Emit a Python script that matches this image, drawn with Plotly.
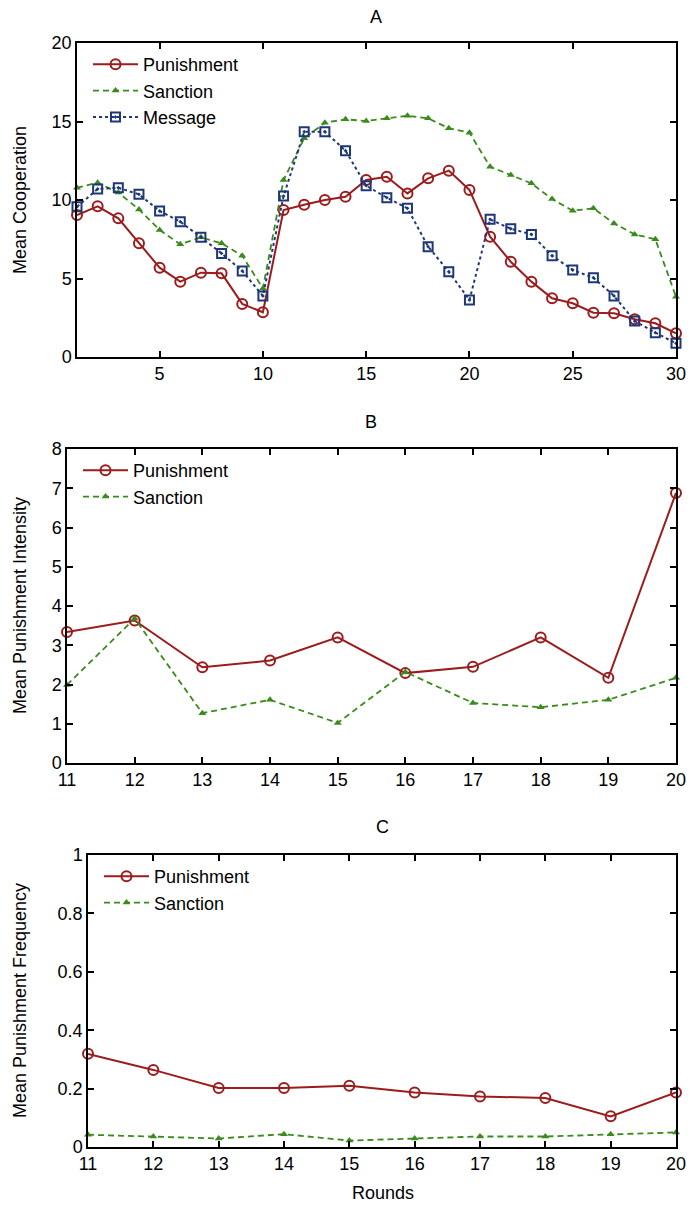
import plotly.graph_objects as go

rounds_a = list(range(1, 31))
punish_a = [9.04, 9.6, 8.83, 7.24, 5.69, 4.8, 5.37, 5.33, 3.38, 2.85,
            9.36, 9.7, 10.0, 10.2, 11.27, 11.48, 10.42, 11.38, 11.87, 10.64,
            7.66, 6.07, 4.8, 3.74, 3.42, 2.82, 2.78, 2.4, 2.15, 1.51]
sanction_a = [10.78, 11.1, 10.47, 9.4, 8.09, 7.18, 7.62, 7.24, 6.45, 4.37,
              11.27, 13.93, 14.92, 15.14, 15.03, 15.2, 15.37, 15.2, 14.57, 14.29,
              12.12, 11.59, 11.06, 10.06, 9.32, 9.47, 8.51, 7.81, 7.5, 3.84]
message_a = [9.57, 10.7, 10.78, 10.36, 9.3, 8.62, 7.62, 6.6, 5.48, 3.89,
             10.25, 14.35, 14.35, 13.14, 10.91, 10.15, 9.47, 7.03, 5.43, 3.63,
             8.77, 8.17, 7.81, 6.45, 5.54, 5.05, 3.89, 2.29, 1.55, 0.87]

rounds_bc = list(range(11, 21))
punish_b = [3.34, 3.63, 2.44, 2.61, 3.2, 2.29, 2.45, 3.2, 2.17, 6.88]
sanction_b = [1.99, 3.68, 1.27, 1.61, 1.02, 2.32, 1.53, 1.42, 1.61, 2.17]
punish_c = [0.319, 0.264, 0.202, 0.202, 0.21, 0.187, 0.173, 0.168, 0.105, 0.187]
sanction_c = [0.042, 0.036, 0.029, 0.044, 0.022, 0.029, 0.036, 0.036, 0.044, 0.05]

RED = "#9B1C1C"
GREEN = "#3A8A1C"
BLUE = "#1E3777"
FONT = "Liberation Sans, Arial, Helvetica, sans-serif"
FS = 18

W, H = 696, 1210
OFF = 8  # page body margin in the rendered HTML


def px(x):
    return (x - OFF) / W


def py(y):
    return 1 - (y - OFF) / H


fig = go.Figure()


def red_trace(x, y, xa, ya, leg):
    return go.Scatter(x=x, y=y, xaxis=xa, yaxis=ya, name="Punishment", legend=leg,
                      mode="lines+markers", cliponaxis=False,
                      line=dict(color=RED, width=2),
                      marker=dict(symbol="circle-open", size=10, color=RED,
                                  line=dict(width=2, color=RED)))


def green_trace(x, y, xa, ya, leg):
    return go.Scatter(x=x, y=y, xaxis=xa, yaxis=ya, name="Sanction", legend=leg,
                      mode="lines+markers", cliponaxis=False,
                      line=dict(color=GREEN, width=1.8, dash="6px,4px"),
                      marker=dict(symbol="triangle-up", size=7, color=GREEN))


def blue_trace(x, y, xa, ya, leg):
    return go.Scatter(x=x, y=y, xaxis=xa, yaxis=ya, name="Message", legend=leg,
                      mode="lines+markers", cliponaxis=False,
                      line=dict(color=BLUE, width=2, dash="dot"),
                      marker=dict(symbol="square-open-dot", size=9, color=BLUE,
                                  line=dict(width=2, color=BLUE)))


fig.add_trace(red_trace(rounds_a, punish_a, "x", "y", "legend"))
fig.add_trace(green_trace(rounds_a, sanction_a, "x", "y", "legend"))
fig.add_trace(blue_trace(rounds_a, message_a, "x", "y", "legend"))
fig.add_trace(red_trace(rounds_bc, punish_b, "x2", "y2", "legend2"))
fig.add_trace(green_trace(rounds_bc, sanction_b, "x2", "y2", "legend2"))
fig.add_trace(red_trace(rounds_bc, punish_c, "x3", "y3", "legend3"))
fig.add_trace(green_trace(rounds_bc, sanction_c, "x3", "y3", "legend3"))

axis_common = dict(showline=True, linecolor="black", linewidth=1.5, mirror="ticks",
                   ticks="inside", ticklen=6, tickwidth=1.5, tickcolor="black",
                   showgrid=False, zeroline=False, automargin=False,
                   tickfont=dict(family=FONT, size=FS, color="black"))

legend_common = dict(xanchor="left", yanchor="top", bgcolor="rgba(0,0,0,0)",
                     font=dict(family=FONT, size=FS, color="black"), itemwidth=45,
                     tracegroupgap=0)

fig.update_layout(
    width=W, height=H,
    margin=dict(l=0, r=0, t=0, b=0, pad=0, autoexpand=False),
    paper_bgcolor="white", plot_bgcolor="white",
    font=dict(family=FONT, size=FS, color="black"),
    xaxis=dict(domain=[px(77), px(676)], range=[1, 30], tickvals=[5, 10, 15, 20, 25, 30],
               anchor="y", **axis_common),
    yaxis=dict(domain=[py(357), py(43)], range=[0, 20], tickvals=[0, 5, 10, 15, 20],
               anchor="x", **axis_common),
    xaxis2=dict(domain=[px(67), px(676)], range=[11, 20], dtick=1,
                anchor="y2", **axis_common),
    yaxis2=dict(domain=[py(763), py(449)], range=[0, 8], dtick=1,
                anchor="x2", **axis_common),
    xaxis3=dict(domain=[px(88), px(676)], range=[11, 20], dtick=1,
                anchor="y3", **axis_common),
    yaxis3=dict(domain=[py(1147), py(855)], range=[0, 1], dtick=0.2,
                anchor="x3", **axis_common),
    legend=dict(x=px(88), y=py(46), **legend_common),
    legend2=dict(x=px(78), y=py(452), **legend_common),
    legend3=dict(x=px(99), y=py(858), **legend_common),
)

annos = [
    dict(text="A", x=px(376), y=py(17)),
    dict(text="B", x=px(371), y=py(422)),
    dict(text="C", x=px(382), y=py(827)),
    dict(text="Rounds", x=px(383), y=py(1193)),
    dict(text="Mean Cooperation", x=px(20), y=py(200), textangle=-90),
    dict(text="Mean Punishment Intensity", x=px(20), y=py(606), textangle=-90),
    dict(text="Mean Punishment Frequency", x=px(20), y=py(1001), textangle=-90),
]
for a in annos:
    fig.add_annotation(xref="paper", yref="paper", showarrow=False,
                       xanchor="center", yanchor="middle",
                       font=dict(family=FONT, size=FS, color="black"), **a)

fig.write_html("out.html")
